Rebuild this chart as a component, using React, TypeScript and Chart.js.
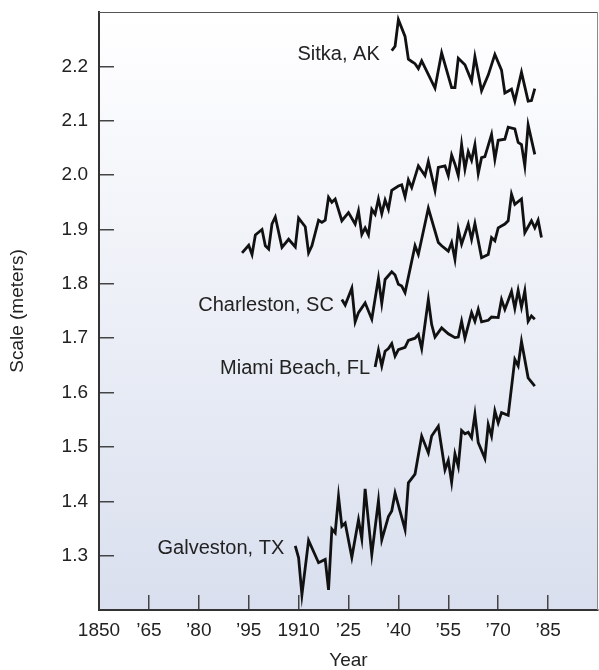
import { useEffect, useRef } from "react";
import { Chart, registerables } from "chart.js";

Chart.register(...registerables);

const FONT = "'Liberation Sans', Arial, Helvetica, sans-serif";

const xTickValues = [1850, 1865, 1880, 1895, 1910, 1925, 1940, 1955, 1970, 1985];
const xTickLabels = ["1850", "\u201965", "\u201980", "\u201995", "1910", "\u201925", "\u201940", "\u201955", "\u201970", "\u201985"];
const yTickValues = [1.3, 1.4, 1.5, 1.6, 1.7, 1.8, 1.9, 2.0, 2.1, 2.2];

const sitkaYears = [1938, 1939, 1940, 1942, 1943, 1944, 1945, 1946, 1947, 1951, 1953, 1956, 1957, 1958, 1960, 1962, 1963, 1965, 1967, 1969, 1971, 1972, 1974, 1975, 1977, 1979, 1980, 1981];
const sitkaValues = [2.229, 2.237, 2.286, 2.255, 2.213, 2.209, 2.205, 2.196, 2.21, 2.16, 2.225, 2.161, 2.161, 2.215, 2.203, 2.173, 2.218, 2.155, 2.184, 2.222, 2.193, 2.151, 2.158, 2.136, 2.189, 2.136, 2.137, 2.159];

const upperYears = [1893, 1895, 1896, 1897, 1899, 1900, 1901, 1902, 1903, 1905, 1907, 1909, 1910, 1912, 1913, 1914, 1916, 1917, 1918, 1919, 1920, 1921, 1923, 1925, 1927, 1928, 1929, 1930, 1931, 1932, 1933, 1934, 1935, 1936, 1937, 1938, 1940, 1941, 1942, 1943, 1944, 1946, 1948, 1949, 1951, 1952, 1954, 1955, 1956, 1957, 1958, 1959, 1960, 1961, 1962, 1963, 1964, 1965, 1966, 1968, 1969, 1970, 1972, 1973, 1975, 1976, 1977, 1978, 1979, 1981];
const upperValues = [1.857, 1.871, 1.854, 1.89, 1.9, 1.87, 1.864, 1.91, 1.923, 1.867, 1.882, 1.868, 1.921, 1.905, 1.857, 1.87, 1.917, 1.913, 1.917, 1.959, 1.95, 1.956, 1.916, 1.931, 1.91, 1.934, 1.891, 1.903, 1.89, 1.937, 1.928, 1.956, 1.929, 1.954, 1.937, 1.972, 1.98, 1.982, 1.96, 1.991, 1.977, 2.017, 1.999, 2.025, 1.972, 2.014, 2.017, 1.999, 2.037, 2.02, 1.999, 2.056, 2.011, 2.043, 2.027, 2.056, 2.003, 2.032, 2.034, 2.075, 2.029, 2.064, 2.066, 2.088, 2.085, 2.06, 2.056, 2.017, 2.092, 2.038];

const charlestonYears = [1923, 1924, 1926, 1927, 1928, 1930, 1932, 1934, 1935, 1936, 1938, 1939, 1940, 1941, 1942, 1945, 1946, 1949, 1952, 1953, 1955, 1956, 1957, 1958, 1959, 1961, 1962, 1963, 1965, 1967, 1968, 1969, 1970, 1972, 1973, 1974, 1975, 1977, 1978, 1980, 1981, 1982, 1983];
const charlestonValues = [1.771, 1.761, 1.792, 1.73, 1.747, 1.765, 1.735, 1.81, 1.764, 1.808, 1.822, 1.816, 1.799, 1.796, 1.784, 1.87, 1.854, 1.939, 1.876, 1.87, 1.86, 1.876, 1.845, 1.9, 1.873, 1.91, 1.882, 1.911, 1.848, 1.854, 1.885, 1.879, 1.903, 1.91, 1.916, 1.965, 1.946, 1.956, 1.894, 1.916, 1.903, 1.917, 1.885];

const miamiYears = [1933, 1934, 1935, 1936, 1937, 1938, 1939, 1940, 1942, 1943, 1945, 1946, 1947, 1949, 1950, 1951, 1953, 1955, 1957, 1958, 1959, 1960, 1962, 1963, 1964, 1965, 1967, 1968, 1970, 1971, 1972, 1974, 1975, 1976, 1977, 1978, 1979, 1980, 1981];
const miamiValues = [1.647, 1.678, 1.649, 1.676, 1.681, 1.69, 1.667, 1.679, 1.683, 1.696, 1.7, 1.707, 1.681, 1.771, 1.725, 1.702, 1.719, 1.708, 1.701, 1.702, 1.731, 1.7, 1.747, 1.731, 1.753, 1.73, 1.733, 1.739, 1.738, 1.771, 1.753, 1.786, 1.755, 1.788, 1.757, 1.787, 1.731, 1.741, 1.735];

const galvestonYears = [1909, 1910, 1911, 1913, 1916, 1918, 1919, 1920, 1921, 1922, 1923, 1924, 1926, 1928, 1929, 1930, 1932, 1934, 1935, 1937, 1938, 1939, 1942, 1943, 1945, 1947, 1949, 1950, 1952, 1954, 1955, 1956, 1957, 1958, 1959, 1960, 1961, 1962, 1963, 1964, 1966, 1967, 1968, 1969, 1970, 1971, 1973, 1975, 1976, 1977, 1979, 1981];
const galvestonValues = [1.318, 1.296, 1.228, 1.328, 1.287, 1.293, 1.237, 1.349, 1.342, 1.409, 1.354, 1.36, 1.297, 1.366, 1.331, 1.423, 1.302, 1.401, 1.329, 1.372, 1.382, 1.415, 1.348, 1.434, 1.45, 1.52, 1.489, 1.52, 1.538, 1.458, 1.475, 1.435, 1.487, 1.464, 1.53, 1.524, 1.527, 1.517, 1.56, 1.508, 1.479, 1.541, 1.52, 1.566, 1.544, 1.563, 1.558, 1.661, 1.649, 1.694, 1.627, 1.612];

const seriesNames = ["Sitka, AK", "", "Charleston, SC", "Miami Beach, FL", "Galveston, TX"];
const seriesYears = [sitkaYears, upperYears, charlestonYears, miamiYears, galvestonYears];
const seriesValues = [sitkaValues, upperValues, charlestonValues, miamiValues, galvestonValues];

// pixel offsets of each name from the first point of its line
const labelOffsets = [
  [-12, 4],
  [0, 0],
  [-8, 6],
  [-5, 1],
  [-11, 3],
];

const backgroundPlugin = {
  id: "bgGradient",
  beforeDraw(chart: any) {
    const { ctx, chartArea } = chart;
    if (!chartArea) return;
    const g = ctx.createLinearGradient(0, chartArea.top, 0, chartArea.bottom);
    g.addColorStop(0, "#ffffff");
    g.addColorStop(1, "#d9dfee");
    ctx.save();
    ctx.fillStyle = g;
    ctx.fillRect(chartArea.left, chartArea.top, chartArea.right - chartArea.left, chartArea.bottom - chartArea.top);
    ctx.restore();
  },
};

const framePlugin = {
  id: "frame",
  afterDraw(chart: any) {
    const { ctx, chartArea } = chart;
    ctx.save();
    ctx.strokeStyle = "#555";
    ctx.lineWidth = 1.2;
    ctx.beginPath();
    ctx.moveTo(chartArea.left, chartArea.top + 0.5);
    ctx.lineTo(chartArea.right, chartArea.top + 0.5);
    ctx.stroke();
    ctx.strokeStyle = "#8a8a8a";
    ctx.lineWidth = 1;
    ctx.beginPath();
    ctx.moveTo(chartArea.right - 0.5, chartArea.top);
    ctx.lineTo(chartArea.right - 0.5, chartArea.bottom);
    ctx.stroke();
    ctx.restore();
  },
};

const namesPlugin = {
  id: "seriesNames",
  afterDatasetsDraw(chart: any) {
    const { ctx } = chart;
    ctx.save();
    ctx.font = `20px ${FONT}`;
    ctx.fillStyle = "#222";
    ctx.textAlign = "right";
    ctx.textBaseline = "middle";
    seriesNames.forEach((name, i) => {
      if (!name) return;
      const meta = chart.getDatasetMeta(i);
      const p = meta.data[0];
      if (!p) return;
      ctx.fillText(name, p.x + labelOffsets[i][0], p.y + labelOffsets[i][1]);
    });
    ctx.restore();
  },
};

export default function App() {
  const canvasRef = useRef<HTMLCanvasElement | null>(null);

  useEffect(() => {
    document.body.style.margin = "0";
    const canvas = canvasRef.current;
    if (!canvas) return;

    const datasets = seriesYears.map((years, i) => ({
      label: seriesNames[i] || "series",
      data: years.map((yr, j) => ({ x: yr, y: seriesValues[i][j] })),
      borderColor: "#111",
      borderWidth: 2.8,
      pointRadius: 0,
      fill: false,
      tension: 0,
      borderJoinStyle: "miter" as const,
    }));

    const chart = new Chart(canvas, {
      type: "line",
      data: { datasets },
      options: {
        animation: false,
        responsive: false,
        devicePixelRatio: 1,
        layout: { padding: { top: 12, right: 1, left: 0, bottom: 0 } },
        plugins: {
          legend: { display: false },
          tooltip: { enabled: false },
        },
        scales: {
          x: {
            type: "linear",
            min: 1850,
            max: 2000,
            afterBuildTicks: (s: any) => {
              s.ticks = xTickValues.map((v) => ({ value: v }));
            },
            afterFit: (s: any) => {
              s.height = 60;
              s.paddingLeft = 0;
              s.paddingRight = 0;
            },
            grid: { drawOnChartArea: false, drawTicks: true, tickLength: -15, color: "#444", lineWidth: 1.5 },
            border: { display: true, color: "#333", width: 2 },
            ticks: {
              autoSkip: false,
              maxRotation: 0,
              padding: 24,
              color: "#222",
              font: { family: FONT, size: 19 },
              callback: (_v: any, idx: number) => xTickLabels[idx],
            },
            title: {
              display: true,
              text: "Year",
              color: "#222",
              font: { family: FONT, size: 19, lineHeight: 1 },
              padding: { top: 0, bottom: 0 },
            },
          },
          y: {
            type: "linear",
            min: 1.2,
            max: 2.3,
            afterBuildTicks: (s: any) => {
              s.ticks = yTickValues.map((v) => ({ value: v }));
            },
            afterFit: (s: any) => {
              s.width = 99;
              s.paddingTop = 0;
              s.paddingBottom = 0;
            },
            grid: { drawOnChartArea: false, drawTicks: true, tickLength: -15, color: "#444", lineWidth: 1.5 },
            border: { display: true, color: "#333", width: 2 },
            ticks: {
              padding: 26,
              color: "#222",
              font: { family: FONT, size: 19 },
              callback: (v: any) => Number(v).toFixed(1),
            },
            title: {
              display: true,
              text: "Scale (meters)",
              color: "#222",
              font: { family: FONT, size: 19, lineHeight: 1 },
              padding: { top: 8, bottom: 0 },
            },
          },
        },
      },
      plugins: [backgroundPlugin, framePlugin, namesPlugin],
    });

    return () => chart.destroy();
  }, []);

  return (
    <div style={{ position: "absolute", left: 0, top: 0, width: 599, height: 670 }}>
      <canvas ref={canvasRef} width={599} height={670} style={{ display: "block" }} />
    </div>
  );
}
